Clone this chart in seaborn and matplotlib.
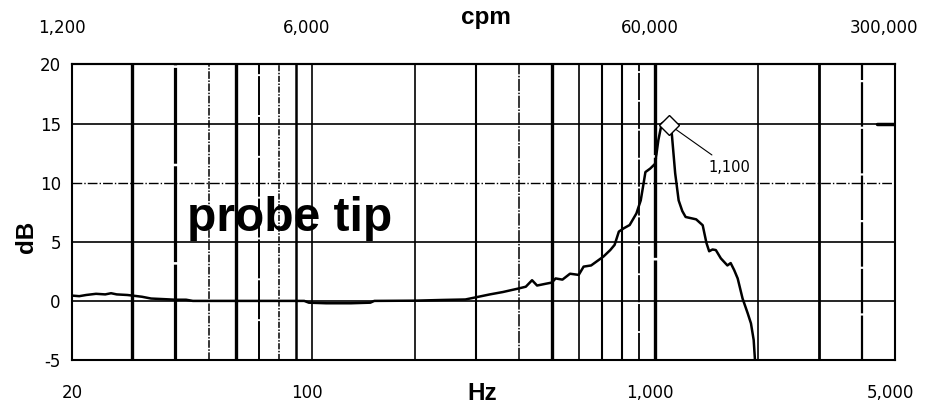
import matplotlib
matplotlib.use("Agg")
import numpy as np
import pandas as pd
import seaborn as sns
import matplotlib.pyplot as plt
from matplotlib.ticker import NullLocator, FixedLocator, FixedFormatter
from matplotlib.transforms import ScaledTranslation

# --- DATA ---
freq_hz = [20, 21, 22, 23.5, 25, 26, 27, 29, 30, 32, 34, 37, 40, 43, 45, 60, 80, 95,
           98, 110, 130, 148, 152, 200, 240, 280, 300, 330, 360, 400, 420, 438, 453,
           480, 500, 513, 537, 565, 599, 619, 651, 707, 740, 762, 784, 810, 843, 882,
           908, 925, 937, 968, 1000, 1022, 1045, 1075, 1100, 1118, 1144, 1171, 1200,
           1227, 1317, 1376, 1411, 1437, 1470, 1503, 1554, 1624, 1660, 1700, 1740,
           1798, 1861, 1902, 1937, 1960]
level_db = [0.45, 0.4, 0.5, 0.6, 0.55, 0.65, 0.55, 0.5, 0.45, 0.35, 0.2, 0.15, 0.1, 0.1,
            0.0, 0.0, 0.0, 0.0, -0.15, -0.2, -0.2, -0.15, 0.0, 0.02, 0.08, 0.12, 0.3,
            0.55, 0.75, 1.05, 1.2, 1.75, 1.3, 1.45, 1.55, 1.9, 1.8, 2.3, 2.2, 2.9, 3.0,
            3.75, 4.3, 4.74, 5.86, 6.14, 6.42, 7.4, 8.5, 9.9, 10.9, 11.2, 11.6, 13.6,
            15.0, 15.2, 15.1, 14.2, 10.8, 8.5, 7.6, 7.1, 6.9, 6.4, 4.9, 4.2, 4.35, 4.3,
            3.6, 3.0, 3.2, 2.6, 1.9, 0.2, -1.05, -1.9, -3.3, -5.6]

PEAK_HZ = 1100
PEAK_DB = 14.9
PEAK_LABEL = "1,100"

hz_ticks = [20, 100, 1000, 5000]
hz_labels = ["20", "100", "1,000", "5,000"]
cpm_ticks = [1200, 6000, 60000, 300000]
cpm_labels = ["1,200", "6,000", "60,000", "300,000"]
db_ticks = [-5, 0, 5, 10, 15, 20]

grid_hz = [30, 40, 50, 60, 70, 80, 90, 100, 200, 300, 400, 500, 600, 700, 800, 900,
           1000, 2000, 3000, 4000]

# line width / style of each vertical grid line (the scan is uneven)
GRID_STYLE = {30: (2.4, "-"), 40: (2.3, (0, (30, 0.8))), 50: (1.1, (0, (5, 1, 1, 1))),
              60: (2.4, "-"), 70: (1.4, (0, (20, 1))), 80: (1.1, (0, (4, 1, 1, 1))),
              90: (1.8, "-"), 100: (1.2, "-"), 200: (1.2, "-"), 300: (1.5, "-"),
              400: (1.1, (0, (8, 1, 1, 1))), 500: (2.4, "-"), 600: (1.2, "-"),
              700: (1.5, "-"), 800: (1.5, "-"), 900: (1.3, (0, (15, 1))),
              1000: (2.4, (0, (30, 0.8))), 2000: (1.2, "-"), 3000: (2.0, "-"),
              4000: (1.6, (0, (20, 1)))}

df = pd.DataFrame({"Hz": freq_hz, "dB": level_db})

sns.set_theme(style="white")
plt.rcParams["font.family"] = ["DejaVu Sans"]
plt.rcParams["text.color"] = "black"
plt.rcParams["xtick.color"] = "black"
plt.rcParams["ytick.color"] = "black"

fig = plt.figure(figsize=(9.25, 4.09), dpi=100)
ax = fig.add_axes([0.0778, 0.1198, 0.8898, 0.7225])

ax.set_xscale("log")
ax.set_xlim(20, 5000)
ax.set_ylim(-5, 20)

# grid
for hz in grid_hz:
    lw, ls = GRID_STYLE[hz]
    ax.axvline(hz, color="black", lw=lw, ls=ls, zorder=1)
for db in [0, 5, 15]:
    ax.axhline(db, color="black", lw=1.2, zorder=1)
ax.axhline(10, color="black", lw=1.0, ls=(0, (7, 1.5, 1, 1.5)), zorder=1)
ax.axhline(15, xmin=0.978, color="black", lw=2.5, zorder=1)

sns.lineplot(data=df, x="Hz", y="dB", color="black", lw=1.8, ax=ax, zorder=3,
             sort=False)

# peak marker and label
ax.plot([PEAK_HZ], [PEAK_DB], marker="D", ms=10, mfc="white", mec="black",
        mew=1.0, zorder=4)
ax.annotate(PEAK_LABEL, xy=(PEAK_HZ, PEAK_DB), xytext=(1430, 11.3),
            ha="left", va="center", fontsize=10.5,
            arrowprops=dict(arrowstyle="-", color="black", lw=0.8,
                            shrinkA=2, shrinkB=6))

ax.text(0.265, 0.48, "probe tip", transform=ax.transAxes, ha="center",
        va="center", fontsize=34.5, fontweight="bold", family="Liberation Sans",
        zorder=5)

# axes / ticks
ax.xaxis.set_major_locator(FixedLocator(hz_ticks))
ax.xaxis.set_major_formatter(FixedFormatter(hz_labels))
ax.xaxis.set_minor_locator(NullLocator())
ax.set_yticks(db_ticks)
ax.set_yticklabels([str(v) for v in db_ticks])
ax.tick_params(axis="x", length=0, pad=17, labelsize=12)
ax.tick_params(axis="y", length=0, pad=8, labelsize=12)
ax.set_xlabel("")
ax.set_ylabel("")

secax = ax.secondary_xaxis("top", functions=(lambda f: f * 60, lambda c: c / 60))
secax.xaxis.set_major_locator(FixedLocator(cpm_ticks))
secax.xaxis.set_major_formatter(FixedFormatter(cpm_labels))
secax.xaxis.set_minor_locator(NullLocator())
secax.tick_params(axis="x", length=0, pad=20, labelsize=12)

# the scanned labels sit a few pixels left of their grid lines
shift = ScaledTranslation(-5 / 100, 0, fig.dpi_scale_trans)
for lab in ax.get_xticklabels()[1:] + secax.get_xticklabels()[1:]:
    lab.set_transform(lab.get_transform() + shift)
top_first = secax.get_xticklabels()[0]
top_first.set_transform(top_first.get_transform() + ScaledTranslation(-10 / 100, 0, fig.dpi_scale_trans))
secax.get_xticklabels()[-1].set_transform(
    secax.get_xticklabels()[-1].get_transform() + ScaledTranslation(-6 / 100, 0, fig.dpi_scale_trans))

for sp in list(ax.spines.values()) + list(secax.spines.values()):
    sp.set_color("black")
    sp.set_linewidth(1.5)

fig.text(0.525, 0.958, "cpm", ha="center", va="center", fontsize=17.5,
         fontweight="bold", family="Liberation Sans")
fig.text(0.521, 0.037, "Hz", ha="center", va="center", fontsize=17.5,
         fontweight="bold", family="Liberation Sans")
fig.text(0.029, 0.42, "dB", ha="center", va="center", fontsize=17.5,
         fontweight="bold", family="Liberation Sans", rotation=90)

fig.savefig("out.png", dpi=100, facecolor="white")
